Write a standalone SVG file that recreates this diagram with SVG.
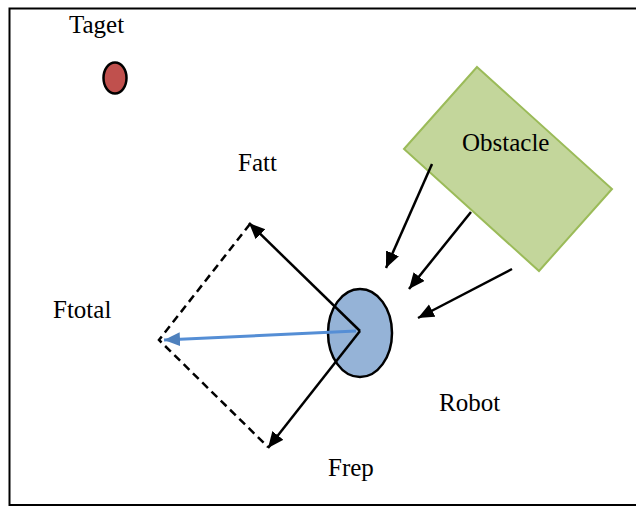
<svg xmlns="http://www.w3.org/2000/svg" width="636" height="507" viewBox="0 0 636 507">
  <style>
    text { font-family: "Liberation Serif", serif; font-size: 25px; fill: #000; }
    .frc { stroke: #000; stroke-width: 2.5; fill: none; }
    .dash { stroke: #000; stroke-width: 2.5; fill: none; stroke-dasharray: 8 5; }
  </style>
  <defs>
    <marker id="ah" markerUnits="userSpaceOnUse" markerWidth="17" markerHeight="15" refX="16" refY="7" orient="auto">
      <path d="M0,0 L16,7 L0,14 z" fill="#000"/>
    </marker>
    <marker id="ahBlue" markerUnits="userSpaceOnUse" markerWidth="17" markerHeight="15" refX="16" refY="7" orient="auto">
      <path d="M0,0 L16,7 L0,14 z" fill="#4f81bd"/>
    </marker>
  </defs>

  <rect width="636" height="507" fill="#fff"/>
  <!-- outer frame (open on the right) -->
  <path d="M640,8.5 L9.5,8.5 L9.5,505 L640,505" fill="none" stroke="#000" stroke-width="2"/>

  <g id="target">
    <ellipse cx="115" cy="78" rx="11.5" ry="15.5" fill="#c0504d" stroke="#000" stroke-width="2.5"/>
    <text x="69" y="33">Taget</text>
  </g>

  <g id="obstacle">
    <polygon points="477,67 612,189 539,271 404,149" fill="#c3d69b" stroke="#9bbb59" stroke-width="2"/>
    <text x="462" y="151">Obstacle</text>
  </g>

  <g id="robot">
    <ellipse cx="360" cy="333" rx="32" ry="44" fill="#95b3d7" stroke="#000" stroke-width="2.5"/>
    <text x="439" y="411">Robot</text>
  </g>

  <g id="labels">
    <text x="238" y="171">Fatt</text>
    <text x="53" y="318">Ftotal</text>
    <text x="328" y="476">Frep</text>
  </g>

  <g id="connectors">
    <!-- force parallelogram -->
    <path class="dash" d="M250,224 L159,340 L268,447"/>
    <line class="frc" x1="360" y1="331" x2="249" y2="223" marker-end="url(#ah)"/>
    <line class="frc" x1="360" y1="331" x2="268" y2="448" marker-end="url(#ah)"/>
    <line x1="356" y1="331" x2="164" y2="340" stroke="#558ed5" stroke-width="3" marker-end="url(#ahBlue)"/>
    <!-- repulsion from obstacle -->
    <line class="frc" x1="432" y1="164" x2="386" y2="268" marker-end="url(#ah)"/>
    <line class="frc" x1="471" y1="212" x2="409" y2="289" marker-end="url(#ah)"/>
    <line class="frc" x1="512" y1="269" x2="418" y2="318" marker-end="url(#ah)"/>
  </g>
</svg>
